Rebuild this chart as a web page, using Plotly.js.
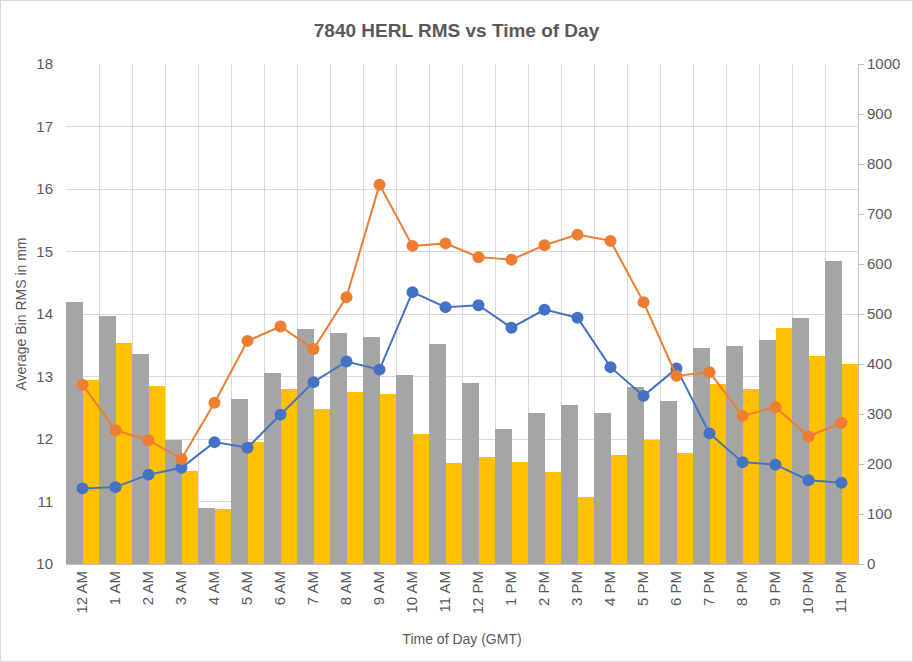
<!DOCTYPE html>
<html>
<head>
<meta charset="utf-8">
<script src="https://cdn.plot.ly/plotly-3.0.1.min.js"></script>
<style>
html,body{margin:0;padding:0;background:#fff;}
#chart{width:911px;height:660px;border:1px solid #d9d9d9;}
</style>
</head>
<body>
<div id="chart"></div>
<script>
const hours = ["12 AM","1 AM","2 AM","3 AM","4 AM","5 AM","6 AM","7 AM","8 AM","9 AM","10 AM","11 AM",
               "12 PM","1 PM","2 PM","3 PM","4 PM","5 PM","6 PM","7 PM","8 PM","9 PM","10 PM","11 PM"];
// Bars (right axis, counts)
const grayBars   = [524,496,421,248,112,330,382,470,463,454,379,440,363,271,303,319,303,354,326,433,436,449,493,607];
const yellowBars = [369,443,357,186,110,245,350,310,344,340,261,202,214,204,184,134,218,248,223,361,350,472,417,401];
// Lines (left axis, mm)
const orangeLine = [12.87,12.14,11.98,11.68,12.58,13.57,13.80,13.44,14.27,16.07,15.09,15.13,
                    14.91,14.87,15.10,15.27,15.17,14.19,13.01,13.07,12.37,12.51,12.04,12.26];
const blueLine   = [11.21,11.23,11.43,11.54,11.95,11.86,12.39,12.91,13.24,13.11,14.35,14.11,
                    14.14,13.78,14.07,13.94,13.15,12.69,13.13,12.09,11.63,11.59,11.34,11.30];

const font = "'Liberation Sans', Arial, sans-serif";
const grey = "#595959";

const traces = [
  {type:"bar", x:hours, y:grayBars, yaxis:"y", marker:{color:"#A5A5A5"}, name:"Gray"},
  {type:"bar", x:hours, y:yellowBars, yaxis:"y", marker:{color:"#FFC000"}, name:"Yellow"},
  {type:"scatter", mode:"lines+markers", x:hours, y:blueLine, yaxis:"y2",
   line:{color:"#4472C4", width:2}, marker:{color:"#4472C4", size:12}, name:"Blue"},
  {type:"scatter", mode:"lines+markers", x:hours, y:orangeLine, yaxis:"y2",
   line:{color:"#ED7D31", width:2}, marker:{color:"#ED7D31", size:12}, name:"Orange"}
];

const layout = {
  width:911, height:660,
  paper_bgcolor:"#fff", plot_bgcolor:"#fff",
  margin:{l:65, r:54, t:63, b:97},
  showlegend:false,
  barmode:"group", bargap:0, bargroupgap:0,
  font:{family:font, color:grey, size:14},
  title:{text:"<b>7840 HERL RMS vs Time of Day</b>", x:0.5, xanchor:"center", y:0.955, yanchor:"middle",
         font:{family:font, size:19, color:grey}},
  xaxis:{type:"category", range:[-0.5, 23.5], tickson:"boundaries", showgrid:true, gridcolor:"#d9d9d9", gridwidth:1,
         tickangle:-90, ticks:"", tickfont:{size:15, color:grey},
         showline:true, linecolor:"#bfbfbf", linewidth:1,
         title:{text:"Time of Day (GMT)", font:{size:14, color:grey}, standoff:20}},
  yaxis:{side:"right", range:[0,1000], dtick:100, showgrid:false, zeroline:false,
         showline:true, linecolor:"#bfbfbf", ticks:"outside", ticklen:5, tickcolor:"#bfbfbf",
         tickfont:{size:15, color:grey}},
  yaxis2:{overlaying:"y", side:"left", range:[10,18], dtick:1, showgrid:true, gridcolor:"#d9d9d9",
          zeroline:false, showline:false, ticks:"", ticklabelstandoff:12, tickfont:{size:15, color:grey},
          title:{text:"Average Bin RMS in mm", font:{size:14, color:grey}, standoff:6}}
};

Plotly.newPlot("chart", traces, layout, {displayModeBar:false, staticPlot:true});
</script>
</body>
</html>
